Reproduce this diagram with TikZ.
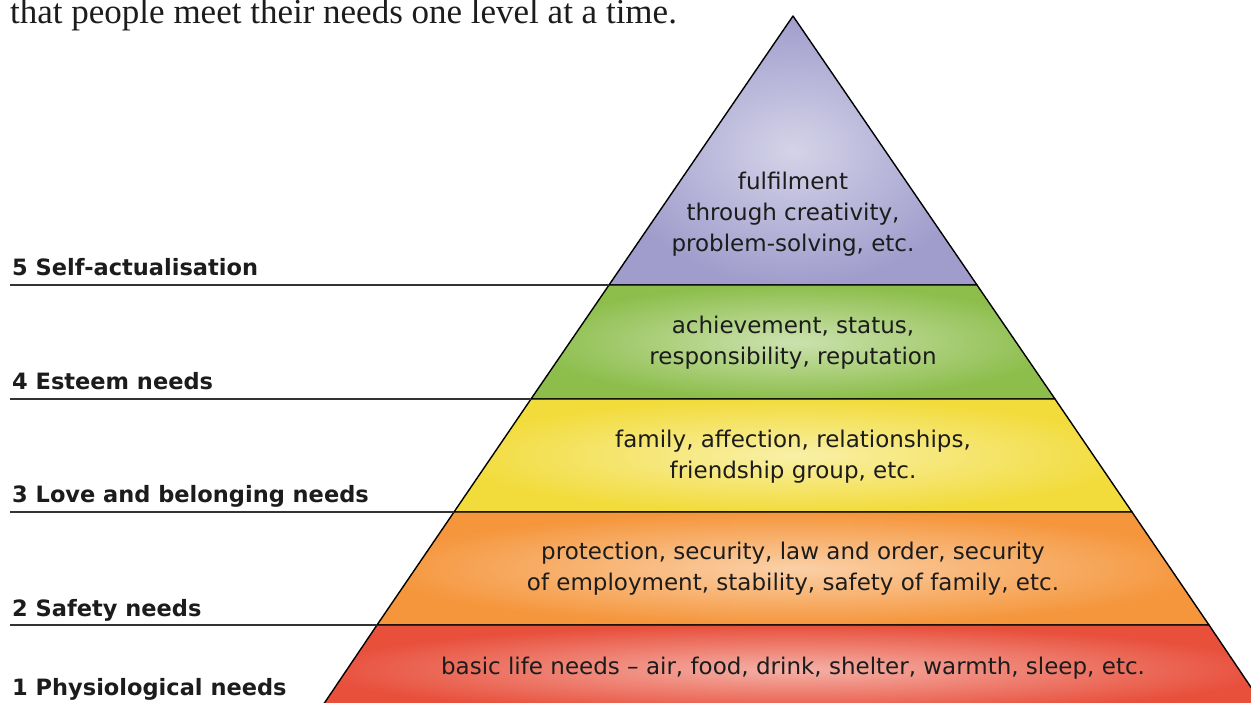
\documentclass[tikz,border=0pt]{standalone}
\usepackage{fontspec}
\setsansfont{DejaVu Sans}
\newfontfamily\headfont{Liberation Serif}
\definecolor{lvlfive}{RGB}{160,157,204}
\definecolor{lvlfour}{RGB}{141,190,76}
\definecolor{lvlthree}{RGB}{242,220,60}
\definecolor{lvltwo}{RGB}{245,150,60}
\definecolor{lvlone}{RGB}{232,80,60}
\definecolor{ink}{RGB}{28,28,28}

\begin{document}
\begin{tikzpicture}[x=1pt, y=-1pt,
    band/.style={shading=radial, inner color=#1!45!white, outer color=#1, draw=black, line width=1.4pt, line join=round},
    need/.style={anchor=base west, inner sep=0pt, text=ink, font=\sffamily\bfseries\fontsize{22.5}{27}\selectfont},
    what/.style={align=center, inner sep=0pt, text=ink, font=\sffamily\fontsize{23}{31}\selectfont},
    rule/.style={draw=black!80, line width=1.4pt}]
  \clip (0,0) rectangle (1251,702);
  \fill[white] (0,0) rectangle (1251,702);
  % corners of the pyramid
  \coordinate (top) at (793,16);
  \coordinate (5l) at (609,285);  \coordinate (5r) at (977,285);
  \coordinate (4l) at (531,399);  \coordinate (4r) at (1055,399);
  \coordinate (3l) at (454,512);  \coordinate (3r) at (1132,512);
  \coordinate (2l) at (377,625);  \coordinate (2r) at (1209,625);
  \coordinate (0l) at (317,714);  \coordinate (0r) at (1269,714);
  % the five levels
  \path[band=lvlfive]  (top) -- (5r) -- (5l) -- cycle;
  \path[band=lvlfour]  (5l) -- (5r) -- (4r) -- (4l) -- cycle;
  \path[band=lvlthree] (4l) -- (4r) -- (3r) -- (3l) -- cycle;
  \path[band=lvltwo]   (3l) -- (3r) -- (2r) -- (2l) -- cycle;
  \path[band=lvlone]   (2l) -- (2r) -- (0r) -- (0l) -- cycle;
  \node[what] (t5) at (793,214) {fulfilment\\through creativity,\\problem-solving, etc.};
  \node[what] (t4) at (793,343) {achievement, status,\\responsibility, reputation};
  \node[what] (t3) at (793,457) {family, affection, relationships,\\friendship group, etc.};
  \node[what] (t2) at (793,569) {protection, security, law and order, security\\of employment, stability, safety of family, etc.};
  \node[what] (t1) at (793,668) {basic life needs – air, food, drink, shelter, warmth, sleep, etc.};
  % names of the levels on the left
  \node[need] (n5) at (12,275) {5 Self-actualisation};
  \node[need] (n4) at (12,389) {4 Esteem needs};
  \node[need] (n3) at (12,502) {3 Love and belonging needs};
  \node[need] (n2) at (12,616) {2 Safety needs};
  \node[need] (n1) at (12,695) {1 Physiological needs};
  \coordinate (e5) at (10,285);
  \coordinate (e4) at (10,399);
  \coordinate (e3) at (10,512);
  \coordinate (e2) at (10,625);
  \draw[rule] (e5) -- (5l);
  \draw[rule] (e4) -- (4l);
  \draw[rule] (e3) -- (3l);
  \draw[rule] (e2) -- (2l);
  \node[anchor=base west, inner sep=0pt, text=ink, font=\headfont\fontsize{35}{40}\selectfont] (head) at (10,23) {that people meet their needs one level at a time.};
\end{tikzpicture}
\end{document}
